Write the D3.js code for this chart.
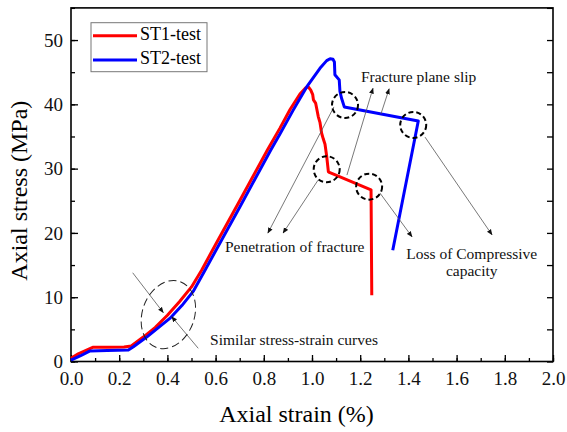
<!DOCTYPE html>
<html lang="en">
<head>
<meta charset="utf-8">
<title>Axial stress vs axial strain</title>
<script src="https://d3js.org/d3.v7.min.js"></script>
<style>
  body { margin: 0; background: #fff; }
</style>
</head>
<body>
<div id="chart"></div>
<script>
// ---- data ----
const st1Strain = [0, 0.03, 0.09, 0.15, 0.22, 0.25, 0.30, 0.35, 0.40, 0.45, 0.50, 0.542, 0.60, 0.70, 0.815, 0.867, 0.909, 0.950, 0.975, 0.985, 0.995, 1.003, 1.006, 1.015, 1.026, 1.033, 1.040, 1.047, 1.054, 1.061, 1.068, 1.072, 1.245, 1.248];
const st1Stress = [0.5, 1.2, 2.2, 2.2, 2.25, 2.4, 3.8, 5.3, 7.2, 9.3, 11.6, 14.2, 18.2, 25.0, 32.9, 36.3, 39.2, 41.6, 42.6, 42.7, 42.2, 41.5, 40.7, 40.2, 38.1, 37.2, 35.5, 34.6, 33.8, 31.9, 29.5, 29.4, 26.7, 10.3];

const st2Strain = [0, 0.04, 0.079, 0.15, 0.238, 0.259, 0.314, 0.36, 0.41, 0.46, 0.507, 0.556, 0.70, 0.829, 0.867, 0.922, 0.978, 1.033, 1.061, 1.075, 1.087, 1.093, 1.095, 1.113, 1.116, 1.123, 1.134, 1.441, 1.335];
const st2Stress = [0.2, 0.9, 1.65, 1.7, 1.8, 2.3, 3.8, 5.2, 6.7, 8.7, 10.9, 14.2, 24.0, 32.9, 35.4, 39.1, 42.7, 45.6, 46.8, 47.1, 47.0, 46.6, 44.6, 43.8, 42.0, 40.9, 39.6, 37.4, 17.3];

const seriesNames = ["ST1-test", "ST2-test"];
const seriesColors = ["#ff0000", "#0000ff"];

const xTicks = [0, 0.2, 0.4, 0.6, 0.8, 1.0, 1.2, 1.4, 1.6, 1.8, 2.0];
const yTicks = [0, 10, 20, 30, 40, 50];

// dashed circles marking events (strain, stress)
const eventCircles = [[1.137, 39.9], [1.420, 36.8], [1.061, 29.9], [1.237, 27.2]];

// annotation arrows: [fromStrain, fromStress, toStrain, toStress]
const arrows = [
  [1.091, 39.6, 0.817, 19.98],
  [1.025, 28.2, 0.880, 19.98],
  [1.145, 29.0, 1.253, 42.5],
  [1.286, 38.5, 1.320, 42.4],
  [1.469, 34.9, 1.747, 19.7],
  [1.282, 26.2, 1.415, 19.4],
  [0.256, 13.8, 0.383, 7.6],
  [0.528, 2.05, 0.418, 6.97]
];

// annotation labels: [text, strain, stress, anchor]
const notes = [
  ["Fracture plane slip", 1.203, 44.1, "start"],
  ["Penetration of fracture", 0.639, 17.6, "start"],
  ["Loss of Compressive", 1.663, 16.56, "middle"],
  ["capacity", 1.663, 13.8, "middle"],
  ["Similar stress-strain curves", 0.577, 3.1, "start"]
];

// ---- layout ----
const W = 567, H = 432;
const mLeft = 71, mRight = 553, mTop = 7.9, mBottom = 361.5;
const serif = "'Liberation Serif', 'Times New Roman', 'DejaVu Serif', serif";

const svg = d3.select("#chart").append("svg")
  .attr("width", W).attr("height", H)
  .attr("font-family", serif);

const x = d3.scaleLinear().domain([0, 2.0]).range([mLeft, mRight]);
const y = d3.scaleLinear().domain([0, 55]).range([mBottom, mTop]);

svg.append("defs").append("marker")
  .attr("id", "arrow")
  .attr("viewBox", "0 0 10 10")
  .attr("refX", 9).attr("refY", 5)
  .attr("markerWidth", 6).attr("markerHeight", 6)
  .attr("markerUnits", "userSpaceOnUse")
  .attr("orient", "auto")
  .append("path")
  .attr("d", "M0,1 L10,5 L0,9 Z")
  .attr("fill", "#111");

// ---- axes ----
const xMinor = d3.range(0, 2.01, 0.1);
const yMinor = d3.range(0, 55.1, 5);

svg.append("g")
  .attr("transform", `translate(0,${mBottom})`)
  .call(d3.axisBottom(x).tickValues(xMinor).tickSizeInner(-3.5).tickSizeOuter(0).tickFormat(""))
  .call(g => g.select(".domain").remove());
svg.append("g")
  .attr("transform", `translate(0,${mBottom})`)
  .call(d3.axisBottom(x).tickValues(xTicks).tickSizeInner(-6.5).tickSizeOuter(0).tickPadding(10).tickFormat(d3.format(".1f")))
  .call(g => g.select(".domain").remove())
  .call(g => g.selectAll("text").attr("font-size", 19).attr("fill", "#111"));

svg.append("g")
  .attr("transform", `translate(${mLeft},0)`)
  .call(d3.axisLeft(y).tickValues(yMinor).tickSizeInner(-4).tickSizeOuter(0).tickFormat(""))
  .call(g => g.select(".domain").remove());
svg.append("g")
  .attr("transform", `translate(${mLeft},0)`)
  .call(d3.axisLeft(y).tickValues(yTicks).tickSizeInner(-7).tickSizeOuter(0).tickPadding(8))
  .call(g => g.select(".domain").remove())
  .call(g => g.selectAll("text").attr("font-size", 19).attr("fill", "#111"));

svg.append("g")
  .attr("transform", `translate(${mRight},0)`)
  .call(d3.axisRight(y).tickValues(yMinor).tickSizeInner(-6).tickSizeOuter(0).tickFormat(""))
  .call(g => g.select(".domain").remove());

// d3 axes put their own sans-serif font on the group; use the serif face
svg.selectAll("g").attr("font-family", serif);
svg.selectAll(".tick line").attr("stroke", "#000").attr("stroke-width", 1.3);

svg.append("rect")
  .attr("x", mLeft).attr("y", mTop)
  .attr("width", mRight - mLeft).attr("height", mBottom - mTop)
  .attr("fill", "none").attr("stroke", "#000").attr("stroke-width", 1.6);

// axis titles
svg.append("text")
  .attr("x", 296.5).attr("y", 422)
  .attr("text-anchor", "middle")
  .attr("font-size", 24)
  .text("Axial strain (%)");

svg.append("text")
  .attr("transform", `translate(27,${(mTop + mBottom) / 2 + 6}) rotate(-90)`)
  .attr("text-anchor", "middle")
  .attr("font-size", 24)
  .text("Axial stress (MPa)");

// ---- curves ----
const line = d3.line().x(d => x(d[0])).y(d => y(d[1]));
const series = [
  d3.zip(st1Strain, st1Stress),
  d3.zip(st2Strain, st2Stress)
];

series.forEach((pts, i) => {
  svg.append("path")
    .datum(pts)
    .attr("d", line)
    .attr("fill", "none")
    .attr("stroke", seriesColors[i])
    .attr("stroke-width", 3)
    .attr("stroke-linejoin", "round");
});

// ---- annotations ----
svg.append("g").selectAll("line")
  .data(arrows)
  .join("line")
    .attr("x1", d => x(d[0])).attr("y1", d => y(d[1]))
    .attr("x2", d => x(d[2])).attr("y2", d => y(d[3]))
    .attr("stroke", "#555")
    .attr("stroke-width", 0.8)
    .attr("marker-end", "url(#arrow)");

svg.append("g").selectAll("circle")
  .data(eventCircles)
  .join("circle")
    .attr("cx", d => x(d[0])).attr("cy", d => y(d[1]))
    .attr("r", 13)
    .attr("fill", "none")
    .attr("stroke", "#000")
    .attr("stroke-width", 2)
    .attr("stroke-dasharray", "5,3");

// big ellipse around the similar part of both curves
svg.append("ellipse")
  .attr("transform", `translate(${x(0.404)},${y(7.3)}) rotate(20)`)
  .attr("rx", 26).attr("ry", 35)
  .attr("fill", "none")
  .attr("stroke", "#222")
  .attr("stroke-width", 1)
  .attr("stroke-dasharray", "8,4");

svg.append("g").selectAll("text")
  .data(notes)
  .join("text")
    .attr("x", d => x(d[1])).attr("y", d => y(d[2]))
    .attr("text-anchor", d => d[3])
    .attr("dominant-baseline", "middle")
    .attr("font-size", 15.5)
    .attr("fill", "#111")
    .text(d => d[0]);

// ---- legend ----
const legend = svg.append("g");
legend.append("rect")
  .attr("x", 91).attr("y", 22.7)
  .attr("width", 116).attr("height", 49)
  .attr("fill", "#fff")
  .attr("stroke", "#777")
  .attr("stroke-width", 1);

seriesNames.forEach((name, i) => {
  const ly = 35.7 + i * 24.3;
  legend.append("line")
    .attr("x1", 93).attr("x2", 137)
    .attr("y1", ly).attr("y2", ly)
    .attr("stroke", seriesColors[i])
    .attr("stroke-width", 3);
  legend.append("text")
    .attr("x", 140).attr("y", ly)
    .attr("dominant-baseline", "middle")
    .attr("font-size", 18)
    .text(name);
});
</script>
</body>
</html>
